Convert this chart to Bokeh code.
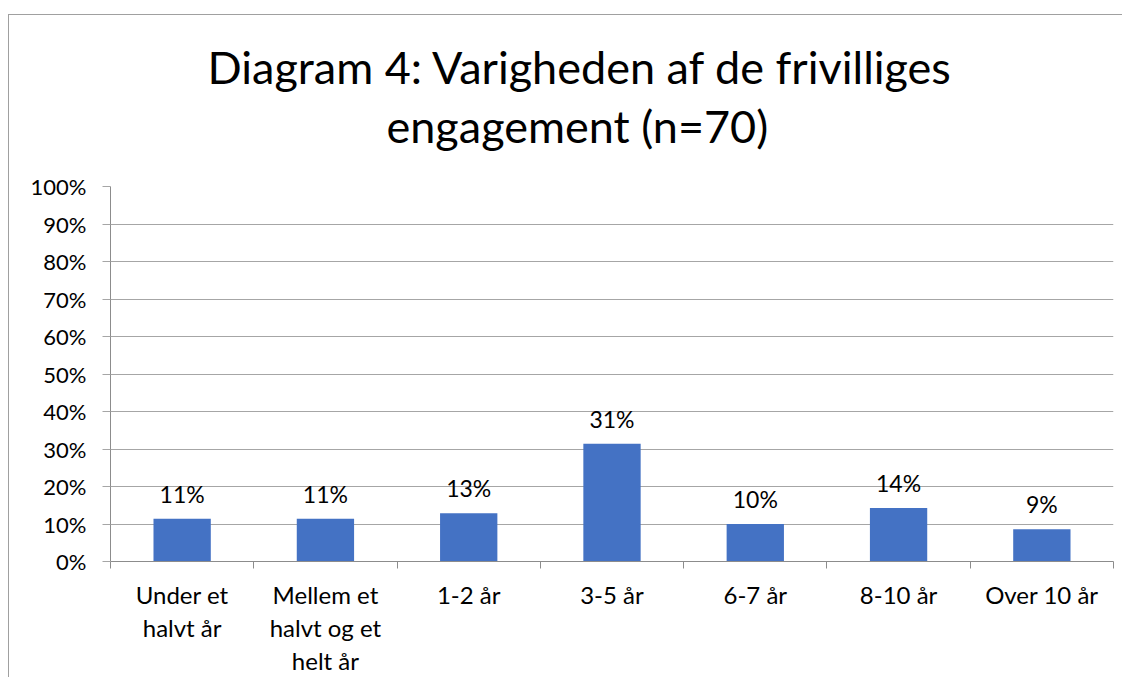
from bokeh.plotting import figure
from bokeh.models import Range1d, FixedTicker, NumeralTickFormatter, Title, ColumnDataSource
from bokeh.core.properties import value
from bokeh.embed import file_html
from bokeh.resources import INLINE

categories = ["Under et\nhalvt år", "Mellem et\nhalvt og et\nhelt år", "1-2 år", "3-5 år", "6-7 år", "8-10 år", "Over 10 år"]
shares = [0.114, 0.114, 0.129, 0.314, 0.100, 0.143, 0.086]
y_ticks = [0, 0.1, 0.2, 0.3, 0.4, 0.5, 0.6, 0.7, 0.8, 0.9, 1.0]

FONT = "Lato"
GRID = "#a6a6a6"
AXIS = "#8c8c8c"

xs = [i + 0.5 for i in range(len(categories))]
src = ColumnDataSource(dict(x=xs, top=shares, lab=[f"{round(v * 100)}%" for v in shares]))

p = figure(width=1114, height=663, output_backend="svg", toolbar_location=None,
           x_range=Range1d(0, len(categories)), y_range=Range1d(0, 1),
           min_border_left=101, min_border_right=10, min_border_top=171, min_border_bottom=115)
p.styles = {"margin-left": "8px", "margin-top": "14px",
            "border-left": "1px solid #a0a0a0", "border-top": "1px solid #a0a0a0"}
p.outline_line_color = None
p.background_fill_color = "white"
p.border_fill_color = "white"

p.vbar(x="x", top="top", width=0.4, source=src, fill_color="#4472C4", line_color=None)
p.text(x="x", y="top", text="lab", source=src, text_align="center", text_baseline="bottom",
       y_offset=-11, text_font=value(FONT), text_font_size="23px", text_color="#000000")

# x axis
xa = p.xaxis[0]
xa.ticker = FixedTicker(ticks=xs, minor_ticks=list(range(len(categories) + 1)))
xa.major_label_overrides = {x: c for x, c in zip(xs, categories)}
xa.major_tick_out = 0
xa.major_tick_in = 0
xa.minor_tick_out = 7
xa.minor_tick_in = 0
xa.minor_tick_line_color = AXIS
xa.axis_line_color = AXIS
xa.major_label_standoff = 11
xa.major_label_text_font = FONT
xa.major_label_text_font_size = "24px"
xa.major_label_text_line_height = 1.15
xa.major_label_text_color = "#000000"

ya = p.yaxis[0]
ya.ticker = FixedTicker(ticks=y_ticks, minor_ticks=[])
ya.formatter = NumeralTickFormatter(format="0%")
ya.major_tick_out = 8
ya.major_tick_in = 0
ya.major_tick_line_color = GRID
ya.axis_line_color = AXIS
ya.major_label_standoff = 16
ya.major_label_text_font = FONT
ya.major_label_text_font_size = "22px"
ya.major_label_text_color = "#000000"

p.xgrid.grid_line_color = None
p.ygrid.ticker = FixedTicker(ticks=y_ticks)
p.ygrid.grid_line_color = GRID

spacer = Title(text=" ", text_font_size="1px", standoff=31)
t2 = Title(text="engagement (n=70)", align="left", text_font=FONT, text_font_size="45px",
           text_font_style="normal", text_color="#000000", offset=276, standoff=0)
t1 = Title(text="Diagram 4: Varigheden af de frivilliges", align="left", text_font=FONT,
           text_font_size="45px", text_font_style="normal", text_color="#000000", offset=97, standoff=6)
p.add_layout(spacer, "above")
p.add_layout(t2, "above")
p.add_layout(t1, "above")

open("out.html", "w").write(file_html(p, INLINE))
